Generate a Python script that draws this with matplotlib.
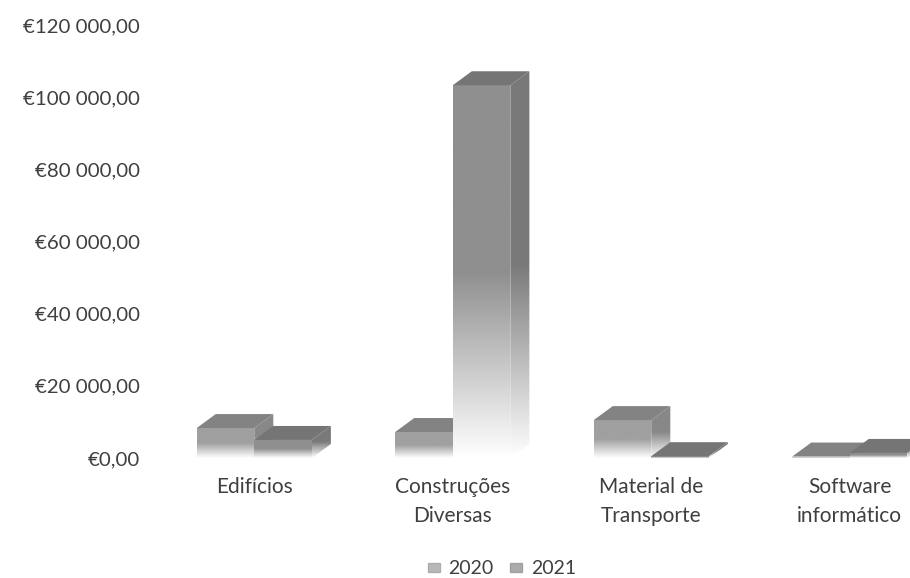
import matplotlib
matplotlib.use("Agg")
import matplotlib.pyplot as plt
import numpy as np
from matplotlib.colors import LinearSegmentedColormap
from matplotlib.patches import Patch, Polygon

plt.rcParams['font.family'] = ['Lato', 'DejaVu Sans']

categories = ["Edifícios", "Construções\nDiversas", "Material de\nTransporte", "Software\ninformático"]
values_2020 = [8300, 7200, 10500, 400]
values_2021 = [5000, 103300, 500, 1400]
y_ticks = [0, 20000, 40000, 60000, 80000, 100000, 120000]
y_tick_labels = ["€0,00", "€20 000,00", "€40 000,00", "€60 000,00", "€80 000,00", "€100 000,00", "€120 000,00"]

color_2020 = "#a0a0a0"
color_2021 = "#8f8f8f"
text_color = "#3f3f3f"
bar_w = 0.29
depth_x = 0.096
depth_y = 3880

fig = plt.figure(figsize=(9.1, 5.78), dpi=100)
ax = fig.add_axes([155 / 910, 120 / 578, 794 / 910, 433 / 578])


def shade(c, f):
    rgb = np.array(matplotlib.colors.to_rgb(c))
    return tuple(rgb * f)


def gradient_poly(pts, top, bottom, color, z):
    # vertical fade to white in the lower half, clipped to the face
    cmap = LinearSegmentedColormap.from_list("f", [(0, "white"), (0.5, color), (1, color)])
    grad = np.linspace(1, 0, 256).reshape(-1, 1)
    xs = [p[0] for p in pts]
    im = ax.imshow(grad, cmap=cmap, vmin=0, vmax=1, aspect="auto", zorder=z,
                   extent=(min(xs), max(xs), bottom, top), interpolation="bilinear")
    poly = Polygon(pts, closed=True, transform=ax.transData, facecolor="none", edgecolor="none")
    ax.add_patch(poly)
    im.set_clip_path(poly)


def draw_bar(x, v, color, z):
    x0, x1 = x, x + bar_w
    # side face
    gradient_poly([(x1, 0), (x1 + depth_x, depth_y), (x1 + depth_x, v + depth_y), (x1, v)],
                  v + depth_y, 0, shade(color, 0.85), z)
    # front face
    gradient_poly([(x0, 0), (x1, 0), (x1, v), (x0, v)], v, 0, color, z + 0.1)
    # top face
    ax.add_patch(Polygon([(x0, v), (x1, v), (x1 + depth_x, v + depth_y), (x0 + depth_x, v + depth_y)],
                         closed=True, facecolor=shade(color, 0.82), edgecolor="none", zorder=z + 0.2))


for i in range(len(categories)):
    draw_bar(i - bar_w, values_2020[i], color_2020, 2 + i)
    draw_bar(i, values_2021[i], color_2021, 2.5 + i)

ax.set_xlim(-0.5, 3.5)
ax.set_ylim(0, 120000)
ax.set_xticks(range(len(categories)))
ax.set_xticklabels(categories, fontsize=15, color=text_color, linespacing=1.55)
ax.set_yticks(y_ticks)
ax.set_yticklabels(y_tick_labels, fontsize=14.7, color=text_color)
ax.tick_params(axis="both", length=0)
ax.tick_params(axis="x", pad=14)
ax.tick_params(axis="y", pad=11)
for s in ax.spines.values():
    s.set_visible(False)

fig.legend(handles=[Patch(color=color_2020, alpha=0.75, label="2020"), Patch(color=color_2021, alpha=0.75, label="2021")],
           loc="center", bbox_to_anchor=(502 / 910, 1 - 569 / 578), ncol=2, frameon=False,
           fontsize=14, labelcolor=text_color, handlelength=0.6, handleheight=0.4,
           handletextpad=0.45, columnspacing=0.85)

fig.savefig("out.png", dpi=100)
